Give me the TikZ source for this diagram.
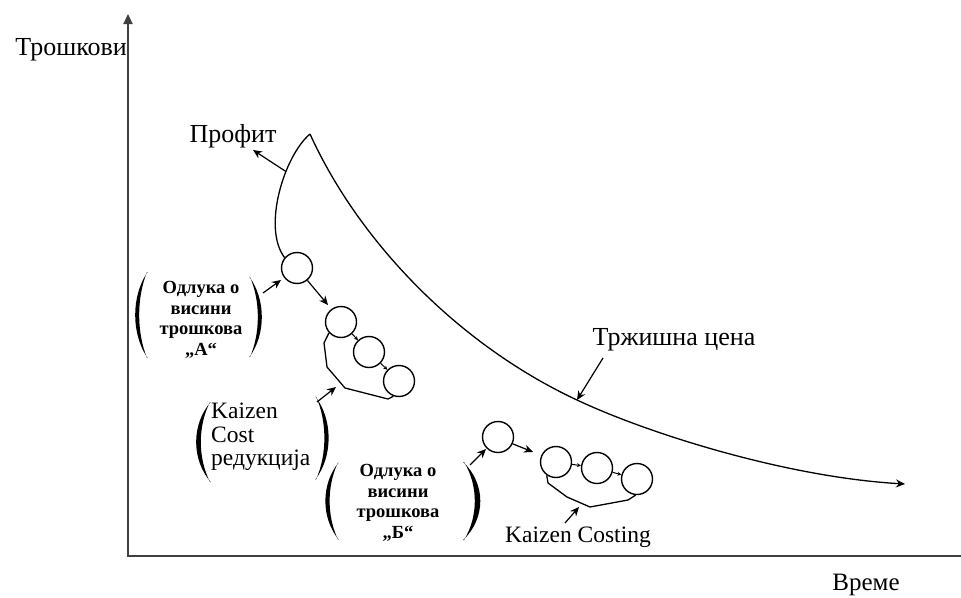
\documentclass[tikz,border=0pt]{standalone}
\usepackage{fontspec}
\setmainfont{Liberation Serif}
\usetikzlibrary{arrows.meta}
\tikzset{
  lpar/.pic={\fill (0.02,-0.5) .. controls (-0.55,-0.22) and (-0.55,0.22) .. (0.02,0.5)
                       -- (0,0.5) .. controls (-0.36,0.2) and (-0.36,-0.2) .. (0,-0.5) -- cycle;},
  rpar/.pic={\fill (-0.02,-0.5) .. controls (0.55,-0.22) and (0.55,0.22) .. (-0.02,0.5)
                       -- (0,0.5) .. controls (0.36,0.2) and (0.36,-0.2) .. (0,-0.5) -- cycle;}
}
\begin{document}
\begin{tikzpicture}[x=1pt,y=-1pt,
  lbl/.style={inner sep=0pt, font=\fontsize{26}{26}\selectfont},
  kz/.style={inner sep=0pt, align=left, font=\fontsize{23.5}{23.5}\selectfont},
  dec/.style={inner sep=0pt, align=center, font=\fontsize{18.5}{20.5}\selectfont\bfseries},
  stage/.style={circle, draw, line width=1.4pt, minimum size=31pt, inner sep=0pt},
  curve/.style={line width=1.3pt},
  ptr/.style={line width=1.2pt, -{Stealth[length=9pt,width=8pt]}},
  hop/.style={line width=1pt, -{Stealth[length=4pt,width=4pt]}},
  axis/.style={line width=2pt, draw=black!75},
]
\useasboundingbox (0,0) rectangle (961,597);

% axes
\coordinate (origin) at (128,556);
\coordinate (ytop) at (128,14);
\coordinate (xend) at (961,556);
\draw[axis, -{Triangle[length=10pt,width=9pt]}] (origin) -- (ytop);
\draw[axis] (127,556) -- (xend);
\node[lbl, anchor=east] (ylab) at (127,50) {Трошкови};
\node[lbl, font=\fontsize{25}{25}\selectfont] (xlab) at (866,585) {Време};

% market price curve
\coordinate (apex) at (310,134);
\coordinate (mid) at (577,400);
\draw[curve, -{Stealth[length=9pt,width=8pt]}]
  (apex) .. controls (358,240) and (457,344) .. (mid)
  .. controls (647,433) and (785,477) .. (905,484);

% stages of cost decision A
\node[stage] (a1) at (297,268) {};
\node[stage] (a2) at (341,322) {};
\node[stage] (a3) at (369,352) {};
\node[stage] (a4) at (399,381) {};

% profit branch
\draw[curve] (apex) .. controls (284,156) and (262,228) .. coordinate[pos=0.35] (profitfoot) (a1.140);

\draw[ptr] (a1.310) -- (328,305);
\draw[hop] (a2) -- (a3);
\draw[hop] (a3) -- (a4);
\draw[line width=1.3pt, line join=round] (a2.222) -- (324,343) -- (327,367)
  -- (345,388) -- (388,399) -- (a4.250);

% stages of cost decision B
\node[stage] (b1) at (498,437) {};
\node[stage] (b2) at (556,462) {};
\node[stage] (b3) at (597,468) {};
\node[stage] (b4) at (637,479) {};
\draw[ptr] (b1.335) -- (533,452);
\draw[hop] (b2) -- (b3);
\draw[hop] (b3) -- (b4);
\draw[line width=1.3pt, line join=round] (b2.235) -- (548,483) -- (567,497)
  -- (590,507) -- (628,500) -- (b4.265);

% labels
\node[lbl] (profit) at (233,136) {Профит};
\draw[ptr] (profitfoot) -- (253,150);

\node[lbl] (market) at (674,340) {Тржишна цена};
\coordinate (marketfoot) at (603,358);
\draw[ptr] (marketfoot) -- (mid);

\node[dec] (decA) at (201,320) {Одлука о\\висини\\трошкова\\„А“};
\pic[xscale=29,yscale=86] at (147,315) {lpar};
\pic[xscale=29,yscale=80] at (250,317) {rpar};
\coordinate (decAfoot) at (263,293);
\draw[ptr] (decAfoot) -- (281,280);

\node[kz, anchor=west] (kcost) at (211,437) {Kaizen\\Cost\\редукција};
\pic[xscale=34,yscale=80] at (210,442) {lpar};
\pic[xscale=31,yscale=83] at (316,438) {rpar};
\coordinate (kcostfoot) at (317,402);
\draw[ptr] (kcostfoot) -- (336,387);

\node[dec] (decB) at (398,503) {Одлука о\\висини\\трошкова\\„Б“};
\pic[xscale=31,yscale=77] at (338,501) {lpar};
\pic[xscale=40,yscale=78] at (464,501) {rpar};
\coordinate (decBfoot) at (470,465);
\draw[ptr] (decBfoot) -- (486,449);

\node[kz] (kcosting) at (578,537) {Kaizen Costing};
\coordinate (kcostingfoot) at (565,523);
\draw[ptr] (kcostingfoot) -- (579,507);
\end{tikzpicture}
\end{document}
